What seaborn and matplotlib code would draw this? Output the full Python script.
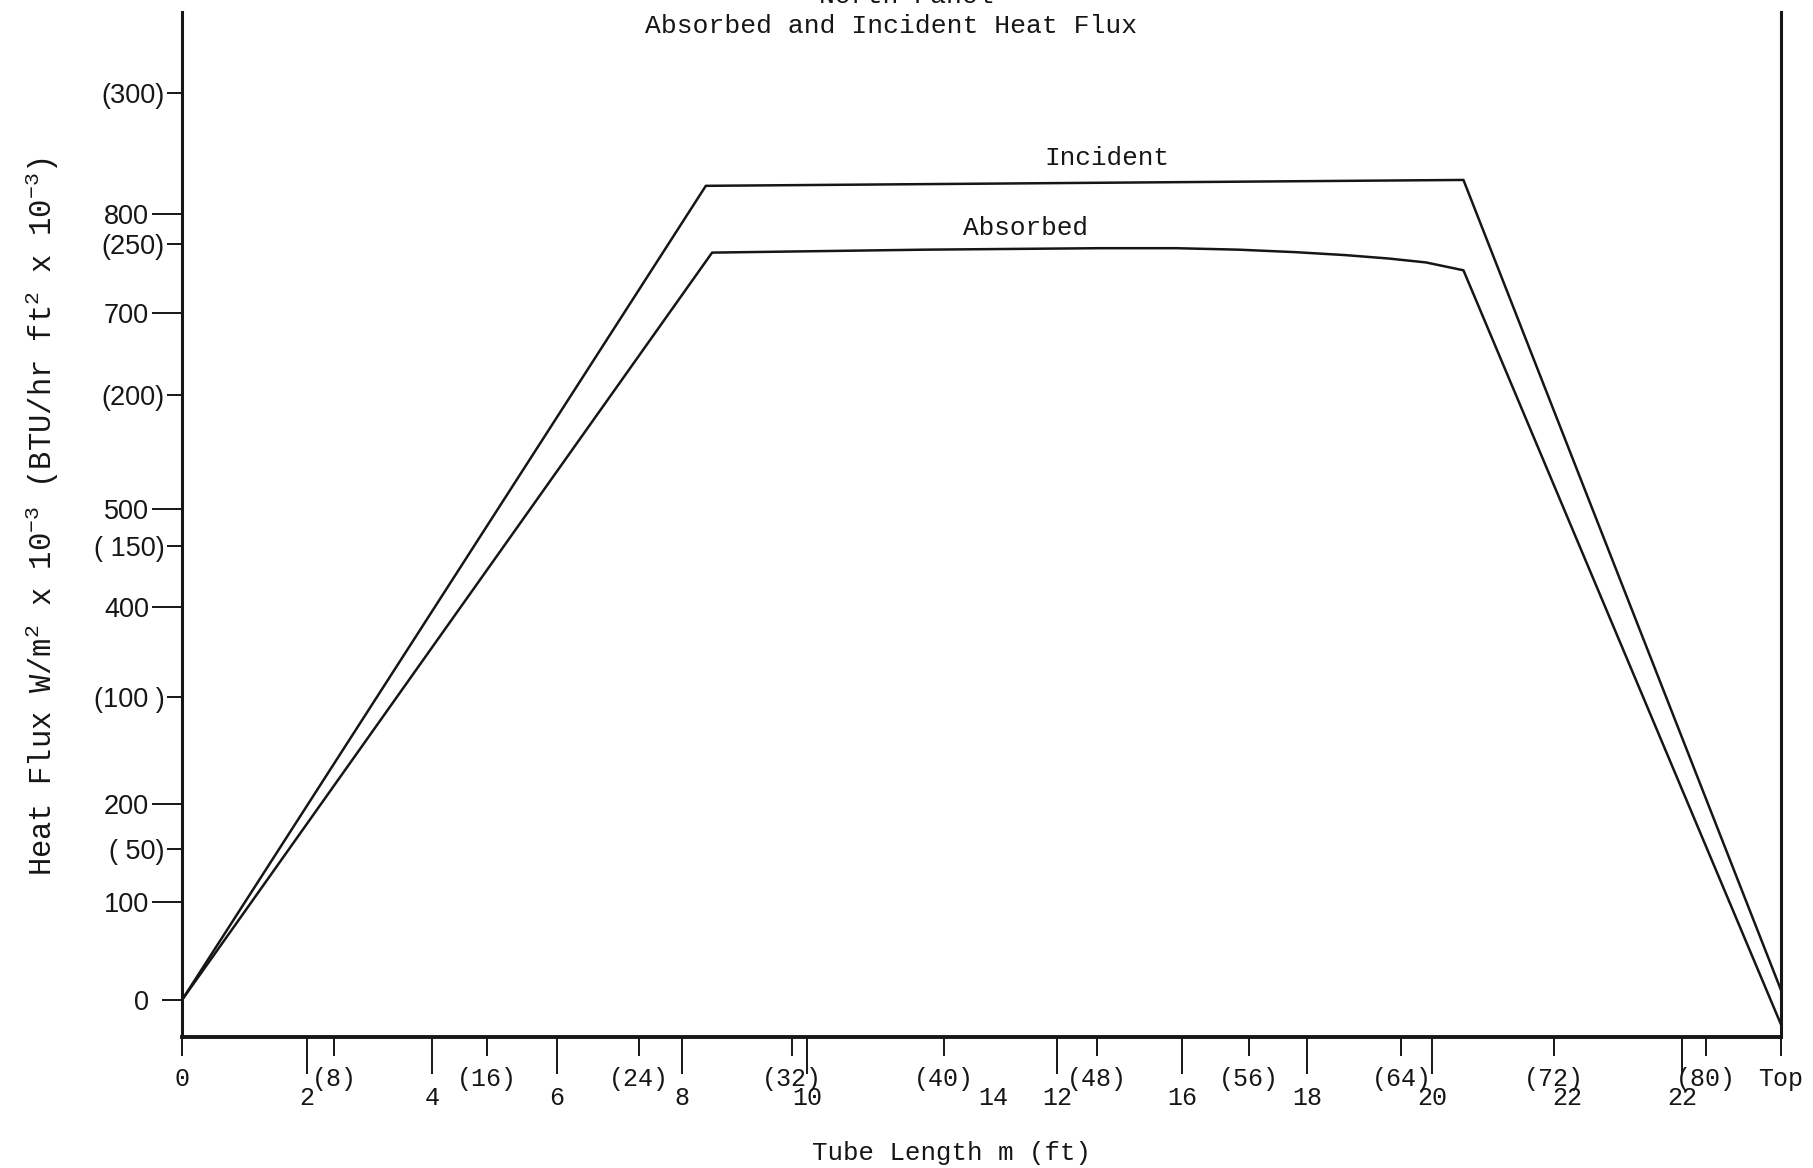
import numpy as np
import pandas as pd
import matplotlib
matplotlib.use("Agg")
import matplotlib.pyplot as plt
import seaborn as sns

# ---------------- data (x in metres along tube, y in W/m^2 x 10^-3) ----------------
incident_x = [0.0, 8.38, 20.50, 25.58]
incident_y = [0, 829, 835, 10]

absorbed_x = [0.0, 8.48, 11.89, 14.69, 15.9, 16.9, 17.8, 18.6, 19.3, 19.9, 20.50, 25.58]
absorbed_y = [0, 761, 764, 765.5, 765.5, 764, 761.5, 758.5, 755, 751, 743, -25]

# left axis: W/m^2 ticks (major) and BTU/hr ft^2 ticks (minor)
w_ticks = [0, 100, 200, 400, 500, 700, 800]
w_labels = ["0", "100", "200", "400", "500", "700", "800"]
btu_ticks = [50, 100, 150, 200, 250, 300]
btu_labels = ["( 50)", "(100 )", "( 150)", "(200)", "(250)", "(300)"]
btu_to_w_as_drawn = 3.08

# bottom axis: metre ticks (long) and feet ticks (short)
m_ticks = [2, 4, 6, 8, 10, 12.98, 14, 16, 18, 20, 22.16, 24]
m_labels = ["2", "4", "6", "8", "10", "14", "12", "16", "18", "20", "22", "22"]
m_no_mark = [12.98, 22.16]
ft_ticks = [8, 16, 24, 32, 40, 48, 56, 64, 72, 80]
ft_labels = ["(8)", "(16)", "(24)", "(32)", "(40)", "(48)", "(56)", "(64)", "(72)", "(80)"]
top_x = 25.58

title_cut = "North Panel"
title = "Absorbed and Incident Heat Flux"
xlabel = "Tube Length m (ft)"
ylabel = "Heat Flux W/m$^2$ x 10$^{-3}$ (BTU/hr ft$^2$ x 10$^{-3}$)"

# ---------------- style ----------------
sns.set_style("ticks")
plt.rcParams["font.family"] = ["Liberation Mono", "DejaVu Sans Mono"]
plt.rcParams["mathtext.fontset"] = "custom"
plt.rcParams["mathtext.rm"] = "Liberation Mono"
plt.rcParams["mathtext.it"] = "Liberation Mono"
plt.rcParams["mathtext.bf"] = "Liberation Mono"

W, H = 1813, 1168
ink = "#161616"
fig = plt.figure(figsize=(W / 100, H / 100), dpi=100)
fig.patch.set_facecolor("white")
ax = fig.add_axes([182 / W, 1 - 1037 / H, (1781 - 182) / W, (1037 - 12) / H])
ax.set_facecolor("white")

df = pd.DataFrame({
    "x": incident_x + absorbed_x,
    "flux": incident_y + absorbed_y,
    "series": ["Incident"] * len(incident_x) + ["Absorbed"] * len(absorbed_x),
})
sns.lineplot(data=df, x="x", y="flux", hue="series", sort=False, estimator=None,
             palette={"Incident": ink, "Absorbed": ink},
             linewidth=1.8, legend=False, ax=ax)

ax.set_xlim(0, top_x)
ax.set_ylim(-37.7, 1006)

for s in ["left", "right"]:
    ax.spines[s].set_linewidth(2.2)
    ax.spines[s].set_color(ink)
ax.spines["bottom"].set_linewidth(2.8)
ax.spines["bottom"].set_color(ink)
ax.spines["top"].set_visible(False)

# y ticks
ax.set_yticks(w_ticks)
ax.set_yticklabels(w_labels)
ax.set_yticks([b * btu_to_w_as_drawn for b in btu_ticks], minor=True)
ax.set_yticklabels(btu_labels, minor=True)
ax.tick_params(axis="y", which="major", length=21.6, width=1.4, pad=2, labelsize=19.5,
               color=ink, labelcolor=ink)
ax.tick_params(axis="y", which="minor", length=10.8, width=1.4, pad=1.5, labelsize=19.5,
               color=ink, labelcolor=ink)
for lab in ax.get_yticklabels() + ax.get_yticklabels(minor=True):
    lab.set_family(["Liberation Sans", "DejaVu Sans"])
for t, v in zip(ax.yaxis.get_major_ticks(len(w_ticks)), w_ticks):
    if v == 0:
        t.tick1line.set_markersize(14.4)

# x ticks
ax.set_xticks(m_ticks)
ax.set_xticklabels(m_labels)
minor_x = [0.0] + [f * 0.3048 for f in ft_ticks] + [top_x]
minor_lab = ["0"] + ft_labels + ["Top"]
ax.set_xticks(minor_x, minor=True)
ax.set_xticklabels(minor_lab, minor=True)
ax.tick_params(axis="x", which="major", length=26.6, width=1.4, pad=8.5, labelsize=18,
               color=ink, labelcolor=ink)
ax.tick_params(axis="x", which="minor", length=13.7, width=1.4, pad=8.0, labelsize=18,
               color=ink, labelcolor=ink)
for t, v in zip(ax.xaxis.get_major_ticks(len(m_ticks)), m_ticks):
    if v in m_no_mark:
        t.tick1line.set_visible(False)

ax.set_xlabel("")
ax.set_ylabel("")

# curve labels
ax.text(14.8, 850, "Incident", fontsize=18.8, ha="center", va="baseline", color=ink)
ax.text(13.49, 779, "Absorbed", fontsize=18.8, ha="center", va="baseline", color=ink)

# titles / axis labels in figure pixel positions
fig.text(906 / W, 1 - 3 / H, title_cut, fontsize=19, ha="center", va="baseline", color=ink)
fig.text(891 / W, 1 - 33 / H, title, fontsize=19, ha="center", va="baseline", color=ink)
fig.text(952 / W, 1 - 1153 / H, xlabel, fontsize=18.5, ha="center", va="center", color=ink)
fig.text(42 / W, 1 - 517 / H, ylabel, fontsize=22, ha="center", va="center",
         rotation=90, color=ink)

fig.savefig("out.png", dpi=100, facecolor="white")
